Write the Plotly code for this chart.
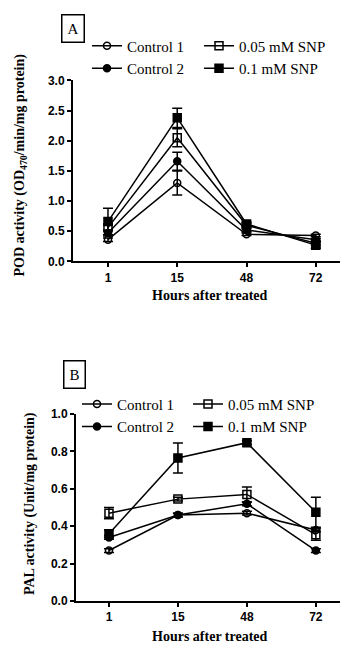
import plotly.graph_objects as go

W, H = 342, 653

hours = ["1", "15", "48", "72"]
series_names = ["Control 1", "Control 2", "0.05 mM SNP", "0.1 mM SNP"]

# Panel A: POD activity
pod_ctrl1 = [0.36, 1.30, 0.45, 0.43]
pod_ctrl2 = [0.47, 1.66, 0.52, 0.36]
pod_snp005 = [0.56, 2.05, 0.60, 0.30]
pod_snp01 = [0.66, 2.38, 0.62, 0.27]
pod_err_ctrl1 = [0.03, 0.20, 0.02, 0.02]
pod_err_ctrl2 = [0.05, 0.15, 0.03, 0.02]
pod_err_snp005 = [0.05, 0.15, 0.03, 0.03]
pod_err_snp01 = [0.22, 0.16, 0.03, 0.05]

# Panel B: PAL activity
pal_ctrl1 = [0.27, 0.46, 0.47, 0.38]
pal_ctrl2 = [0.34, 0.46, 0.52, 0.27]
pal_snp005 = [0.47, 0.545, 0.57, 0.355]
pal_snp01 = [0.36, 0.765, 0.847, 0.475]
pal_err_ctrl1 = [0.01, 0.01, 0.01, 0.01]
pal_err_ctrl2 = [0.01, 0.01, 0.01, 0.01]
pal_err_snp005 = [0.03, 0.01, 0.04, 0.03]
pal_err_snp01 = [0.02, 0.08, 0.01, 0.08]

symbols = ["circle-open", "circle", "square-open", "square"]
msizes = [7, 7, 8, 8]
legends_A = ["legend", "legend", "legend2", "legend2"]
legends_B = ["legend3", "legend3", "legend4", "legend4"]

def px(x):
    return x / W

def py(y):
    return 1 - y / H

fig = go.Figure()
xpos = list(range(len(hours)))

dataA = [pod_ctrl1, pod_ctrl2, pod_snp005, pod_snp01]
errA = [pod_err_ctrl1, pod_err_ctrl2, pod_err_snp005, pod_err_snp01]
dataB = [pal_ctrl1, pal_ctrl2, pal_snp005, pal_snp01]
errB = [pal_err_ctrl1, pal_err_ctrl2, pal_err_snp005, pal_err_snp01]

for i, name in enumerate(series_names):
    fig.add_trace(go.Scatter(
        x=xpos, y=dataA[i], name=name, mode="lines+markers",
        line=dict(color="black", width=1.5),
        marker=dict(symbol=symbols[i], size=msizes[i], color="black",
                    line=dict(color="black", width=1.5)),
        error_y=dict(type="data", array=errA[i], color="black", thickness=1.5, width=5),
        xaxis="x", yaxis="y", legend=legends_A[i], cliponaxis=False,
    ))
for i, name in enumerate(series_names):
    fig.add_trace(go.Scatter(
        x=xpos, y=dataB[i], name=name, mode="lines+markers",
        line=dict(color="black", width=1.5),
        marker=dict(symbol=symbols[i], size=msizes[i], color="black",
                    line=dict(color="black", width=1.5)),
        error_y=dict(type="data", array=errB[i], color="black", thickness=1.5, width=5),
        xaxis="x2", yaxis="y2", legend=legends_B[i], cliponaxis=False,
    ))

tickfont = dict(family="Liberation Sans", size=12, color="black", weight="bold")
axis_common = dict(showline=True, linecolor="black", linewidth=2, ticks="outside",
                   ticklen=4, tickwidth=1.5, tickcolor="black", showgrid=False,
                   zeroline=False, tickfont=tickfont)

legfont = dict(family="Liberation Serif", size=15, color="black")
leg_common = dict(font=legfont, bgcolor="rgba(0,0,0,0)", xanchor="left", yanchor="top",
                  itemwidth=30, tracegroupgap=0)

fig.update_layout(
    width=W, height=H, margin=dict(l=0, r=0, t=0, b=0),
    paper_bgcolor="white", plot_bgcolor="white",
    xaxis=dict(domain=[px(73), px(340)], range=[-0.505, 3.35], tickmode="array",
               tickvals=xpos, ticktext=hours, anchor="y", **axis_common),
    yaxis=dict(domain=[py(260), py(75)], range=[0, 3.0], dtick=0.5, tickformat=".1f",
               anchor="x", **axis_common),
    xaxis2=dict(domain=[px(76), px(340)], range=[-0.478, 3.35], tickmode="array",
                tickvals=xpos, ticktext=hours, anchor="y2", **axis_common),
    yaxis2=dict(domain=[py(607), py(416)], range=[0, 1.0], dtick=0.2, tickformat=".1f",
                anchor="x2", **axis_common),
    legend=dict(x=px(87), y=py(23), **leg_common),
    legend2=dict(x=px(199), y=py(23), **leg_common),
    legend3=dict(x=px(77), y=py(389), **leg_common),
    legend4=dict(x=px(188), y=py(389), **leg_common),
    showlegend=True,
)

titlefont = dict(family="Liberation Serif", size=14, color="black")
ann = [
    dict(text="<b>POD activity (OD<sub>470</sub>/min/mg protein)</b>", x=px(21), y=py(162),
         textangle=-90, font=titlefont),
    dict(text="<b>PAL activity (Unit/mg protein)</b>", x=px(30), y=py(508),
         textangle=-90, font=titlefont),
    dict(text="<b>Hours after treated</b>", x=px(210), y=py(295), font=titlefont),
    dict(text="<b>Hours after treated</b>", x=px(210), y=py(643), font=titlefont),
    dict(text="A", x=px(72.5), y=py(21.5), font=dict(family="Liberation Serif", size=15, color="black"),
         bordercolor="black", borderwidth=1.5, borderpad=5),
    dict(text="B", x=px(74), y=py(376), font=dict(family="Liberation Serif", size=15, color="black"),
         bordercolor="black", borderwidth=1.5, borderpad=5),
]
for a in ann:
    a.update(xref="paper", yref="paper", showarrow=False, xanchor="center", yanchor="middle")
fig.update_layout(annotations=ann)

fig.write_html("out.html")
